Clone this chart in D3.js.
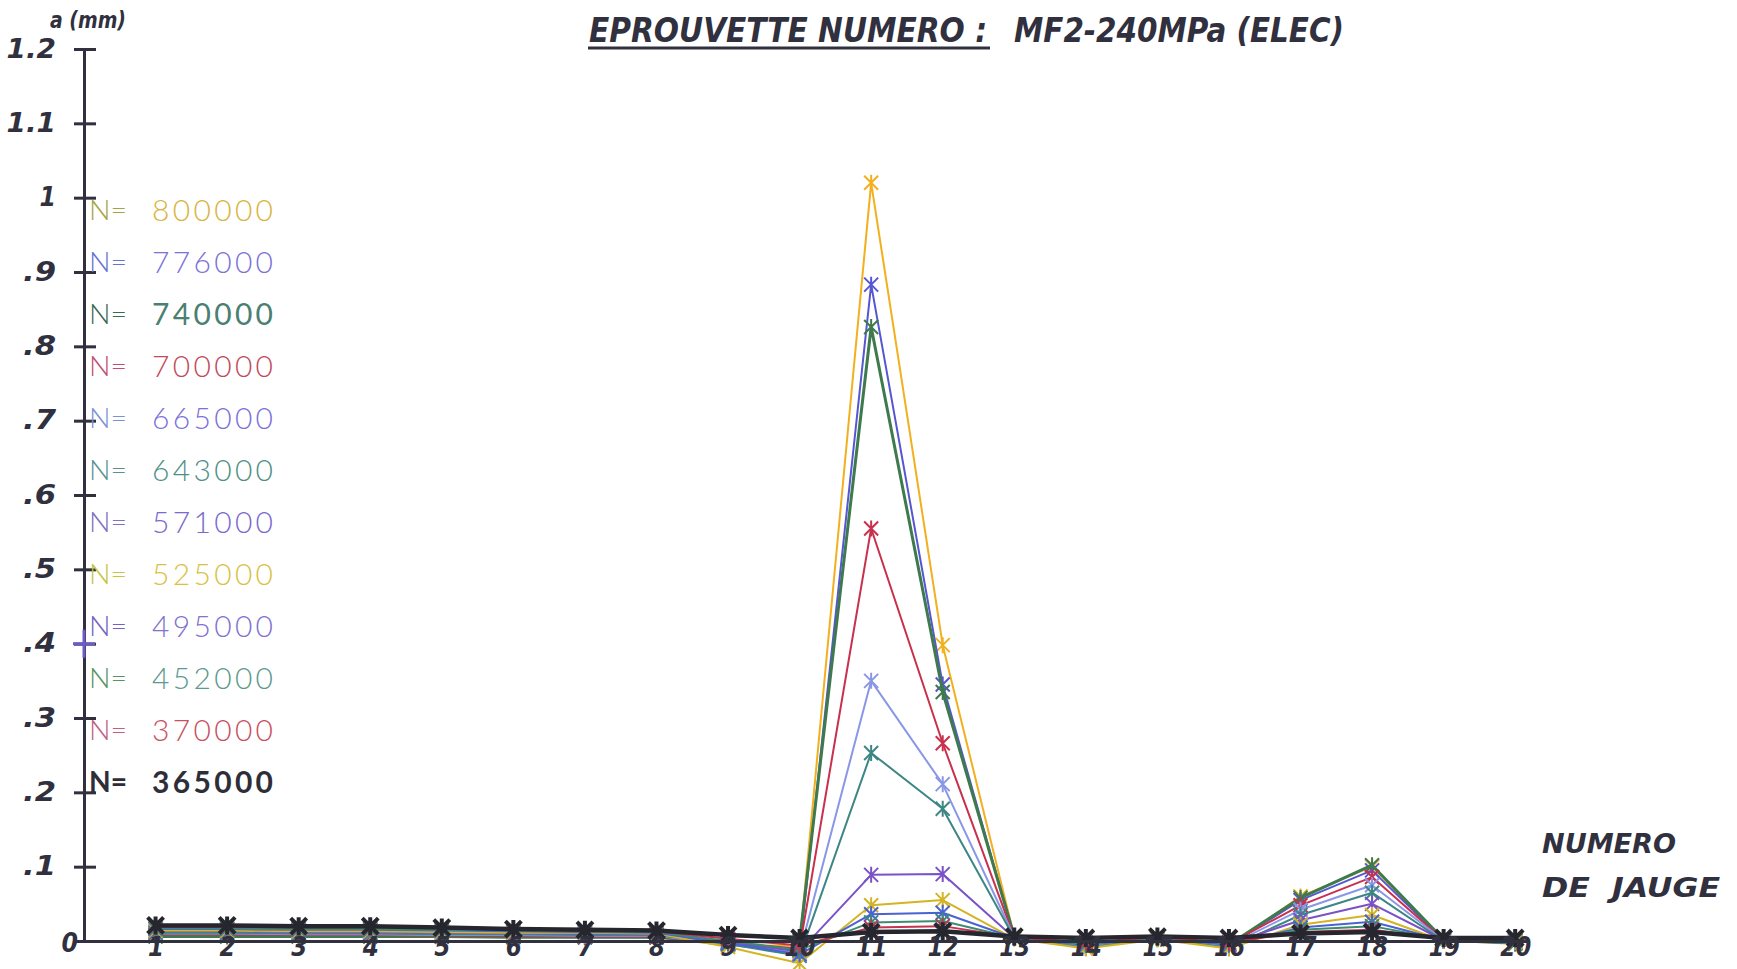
<!DOCTYPE html>
<html><head><meta charset="utf-8">
<script src="https://cdn.jsdelivr.net/npm/d3@7"></script>
<style>body{margin:0;background:#fff;overflow:hidden}</style>
</head><body><svg id="c" width="1737" height="969"></svg>
<script>
// ---------- data ----------
const gauges = d3.range(1, 21);
const seriesLabels = ["800000","776000","740000","700000","665000","643000","571000","525000","495000","452000","370000","365000"];
const lineColors  = ["#f2b01e","#5656d2","#3e7a4e","#c8304c","#8a96e6","#3c8684","#7a52c8","#d4b422","#4a62d2","#3c8c70","#c43454","#26262e"];
const textColors  = ["#d8b440","#7a72d8","#4a8072","#c04a5a","#7a72d8","#4e9088","#7a6ad0","#d8c244","#8072d0","#5c9a90","#c85062","#2e2e38"];
const nColors     = ["#a4a444","#6474d2","#3a6a50","#c05072","#7c92d8","#5a9292","#8070c0","#c4c440","#7062c2","#5a9262","#c06080","#2e2e38"];
// crack depth a (mm) per gauge 1..20
const v800000 = [0.008,0.008,0.007,0.007,0.006,0.006,0.006,0.005,-0.006,-0.006,1.020,0.398,0.006,-0.008,0.003,-0.008,0.060,0.100,0.001,-0.004];
const v776000 = [0.008,0.008,0.007,0.007,0.006,0.006,0.005,0.005,-0.004,-0.012,0.883,0.345,0.005,-0.006,0.003,-0.006,0.055,0.095,0.001,-0.003];
const v740000 = [0.006,0.006,0.006,0.006,0.006,0.005,0.005,0.005,-0.002,0.000,0.826,0.335,0.006,-0.004,0.004,-0.005,0.058,0.102,0.002,-0.002];
const v700000 = [0.009,0.009,0.008,0.008,0.007,0.007,0.006,0.006,-0.003,-0.010,0.555,0.266,0.005,-0.005,0.004,-0.004,0.048,0.086,0.001,-0.002];
const v665000 = [0.010,0.010,0.009,0.009,0.008,0.008,0.007,0.007,-0.005,-0.016,0.350,0.211,0.005,-0.006,0.003,-0.006,0.042,0.075,0.001,-0.002];
const v643000 = [0.011,0.011,0.010,0.010,0.009,0.009,0.008,0.008,-0.004,-0.020,0.253,0.178,0.004,-0.009,0.003,-0.009,0.035,0.065,0.000,-0.003];
const v571000 = [0.013,0.013,0.012,0.012,0.011,0.010,0.010,0.009,-0.002,-0.014,0.089,0.090,0.004,-0.004,0.004,-0.004,0.028,0.050,0.001,0.000];
const v525000 = [0.014,0.014,0.013,0.013,0.012,0.011,0.011,0.010,-0.008,-0.030,0.048,0.055,0.003,-0.010,0.002,-0.010,0.022,0.035,0.000,-0.001];
const v495000 = [0.016,0.016,0.015,0.015,0.014,0.013,0.012,0.011,-0.003,-0.018,0.036,0.038,0.004,-0.005,0.004,-0.005,0.018,0.026,0.001,0.001];
const v452000 = [0.017,0.017,0.016,0.016,0.015,0.014,0.013,0.012,0.000,-0.012,0.025,0.027,0.004,-0.004,0.004,-0.003,0.015,0.020,0.002,0.002];
const v370000 = [0.019,0.019,0.018,0.018,0.017,0.015,0.014,0.013,0.003,-0.006,0.018,0.020,0.005,-0.002,0.005,-0.002,0.012,0.015,0.003,0.003];
const v365000 = [0.021,0.021,0.020,0.020,0.018,0.016,0.015,0.014,0.008,0.004,0.012,0.013,0.006,0.004,0.006,0.004,0.010,0.012,0.004,0.004];
const seriesValues = [v800000,v776000,v740000,v700000,v665000,v643000,v571000,v525000,v495000,v452000,v370000,v365000];
const yTickValues = [0,0.1,0.2,0.3,0.4,0.5,0.6,0.7,0.8,0.9,1,1.1,1.2];
const yTickLabels = ["0",".1",".2",".3",".4",".5",".6",".7",".8",".9","1","1.1","1.2"];
const titleLeft = "EPROUVETTE NUMERO :";
const titleRight = "MF2-240MPa (ELEC)";
const yTitle = "a (mm)";
const xTitle = ["NUMERO", "DE  JAUGE"];

// ---------- drawing ----------
const svg = d3.select("#c");
svg.append("rect").attr("width",1737).attr("height",969).attr("fill","#fff");
const ink = "#30303e";
const plotFont = "'DejaVu Sans', sans-serif";

const x = d3.scaleLinear().domain([0, 20.2]).range([84, 1529.5]);
const y = d3.scaleLinear().domain([0, 1.2]).range([941, 49]);

// y axis
const yAx = svg.append("g").attr("transform", `translate(${x(0)},0)`)
  .call(d3.axisLeft(y).tickValues(yTickValues).tickFormat((d,i) => yTickLabels[i]).tickSizeOuter(0).tickPadding(22));
yAx.select(".domain").attr("stroke", ink).attr("stroke-width", 3);
yAx.selectAll(".tick line").attr("x1", -10).attr("x2", 12).attr("stroke", ink).attr("stroke-width", 3);
yAx.selectAll(".tick text").attr("font-family", plotFont).attr("font-weight","bold")
  .attr("font-style","italic").attr("font-size", 26).attr("fill", ink)
  .attr("textLength", (d,i) => yTickLabels[i].length * 16.5).attr("lengthAdjust","spacingAndGlyphs");
yAx.selectAll(".tick").filter(d => d === 0).select("text").attr("dx", 22).attr("dy", "0.42em");

// purple pen mark on the axis at .4
svg.append("path").attr("d", `M${x(0)-11},${y(0.4)}H${x(0)+11}M${x(0)},${y(0.4)-14}V${y(0.4)+14}`)
  .attr("stroke", "#6c5cc8").attr("stroke-width", 3);

// series lines and markers
const line = d3.line().x((d,i) => x(gauges[i])).y(d => y(d));
const star = s => `M${-s},${-s}L${s},${s}M${-s},${s}L${s},${-s}M0,${-s-1}V${s+1}`;
seriesValues.forEach((vals, k) => {
  const dark = k === 11, mid = k === 2;
  const g = svg.append("g");
  g.append("path").attr("d", line(vals)).attr("fill","none")
    .attr("stroke", lineColors[k]).attr("stroke-width", dark ? 4.5 : (mid ? 3 : 2)).attr("stroke-linejoin","round");
  g.selectAll("path.m").data(vals).join("path").attr("class","m")
    .attr("transform", (d,i) => `translate(${x(gauges[i])},${y(d)})`)
    .attr("d", star(dark ? 8 : 7)).attr("fill","none").attr("stroke", lineColors[k]).attr("stroke-width", dark ? 4 : 2);
});

// x axis (baseline + labels)
const xAx = svg.append("g").attr("transform", `translate(0,${y(0)})`)
  .call(d3.axisBottom(x).tickValues(gauges).tickSize(0).tickSizeOuter(0).tickPadding(1));
xAx.select(".domain").attr("stroke", ink).attr("stroke-width", 3);
xAx.selectAll(".tick text").attr("font-family", plotFont).attr("font-weight","bold")
  .attr("font-style","italic").attr("font-size", 27).attr("fill", ink).attr("dy","0.5em")
  .attr("textLength", d => d < 10 ? 16 : 31).attr("lengthAdjust","spacingAndGlyphs");

// legend
const ly = d3.scaleLinear().domain([0, 11]).range([210, 782]);
seriesLabels.forEach((lab, k) => {
  const bold = k === 11;
  svg.append("text").attr("x", 89).attr("y", ly(k)).attr("dy","0.36em")
    .attr("font-family","Lato, 'Open Sans', sans-serif").attr("font-weight", bold ? 700 : 300)
    .attr("font-size", 28).attr("fill", nColors[k])
    .attr("textLength", 38).attr("lengthAdjust","spacingAndGlyphs").text("N=");
  svg.append("text").attr("x", 152).attr("y", ly(k)).attr("dy","0.36em")
    .attr("font-family","Lato, 'Open Sans', sans-serif").attr("font-weight", bold ? 700 : (k === 2 ? 400 : 300))
    .attr("font-size", 30).attr("fill", textColors[k])
    .attr("textLength", 121).attr("lengthAdjust","spacing").text(lab);
});

// titles
const tStyle = s => s.attr("font-family", plotFont).attr("font-weight","bold").attr("font-style","italic").attr("fill", ink);
tStyle(svg.append("text").attr("x", 589).attr("y", 42).attr("font-size", 34)
  .attr("textLength", 398).attr("lengthAdjust","spacingAndGlyphs").text(titleLeft));
svg.append("line").attr("x1", 588).attr("x2", 990).attr("y1", 48).attr("y2", 48).attr("stroke", ink).attr("stroke-width", 3);
tStyle(svg.append("text").attr("x", 1014).attr("y", 42).attr("font-size", 34)
  .attr("textLength", 330).attr("lengthAdjust","spacingAndGlyphs").text(titleRight));
tStyle(svg.append("text").attr("x", 50).attr("y", 28).attr("font-size", 23)
  .attr("textLength", 76).attr("lengthAdjust","spacingAndGlyphs").text(yTitle));
tStyle(svg.append("text").attr("x", 1542).attr("y", 853).attr("font-size", 27)
  .attr("textLength", 134).attr("lengthAdjust","spacingAndGlyphs").text(xTitle[0]));
tStyle(svg.append("text").attr("x", 1542).attr("y", 897).attr("font-size", 27)
  .attr("textLength", 178).attr("lengthAdjust","spacingAndGlyphs").style("white-space","pre").text(xTitle[1]));
</script>
</body></html>
